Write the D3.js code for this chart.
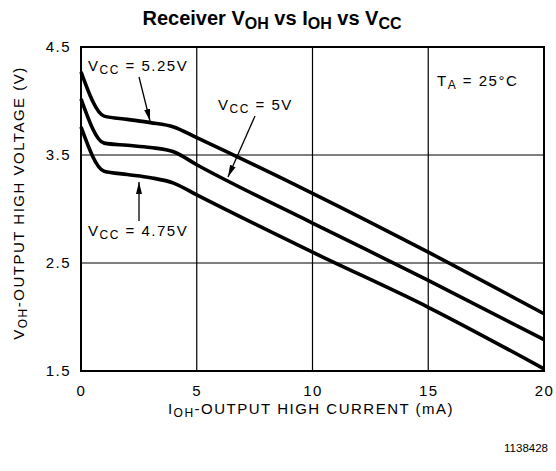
<!DOCTYPE html>
<html><head><meta charset="utf-8">
<script src="https://cdn.jsdelivr.net/npm/d3@7/dist/d3.min.js"></script>
<style>body{margin:0;background:#fff;} svg{display:block;}</style>
</head><body>
<svg id="c" width="556" height="471"></svg>
<script>
const currentMA = [0, 1, 2, 3, 4, 5, 10, 15, 20];
const vcc525 = [4.27, 3.86, 3.83, 3.80, 3.76, 3.66, 3.145, 2.60, 2.03];
const vcc500 = [4.02, 3.61, 3.59, 3.57, 3.53, 3.41, 2.87, 2.34, 1.79];
const vcc475 = [3.76, 3.35, 3.32, 3.29, 3.24, 3.13, 2.60, 2.09, 1.52];
const xTicks = [0, 5, 10, 15, 20];
const yTicks = [1.5, 2.5, 3.5, 4.5];

const svg = d3.select("#c");
const L = 81, R = 544, T = 47, B = 371;
const x = d3.scaleLinear().domain([0, 20]).range([L, R]);
const y = d3.scaleLinear().domain([1.5, 4.5]).range([B, T]);
const font = "'Liberation Sans', Arial, sans-serif";
const LS = 1.5;

// grid
svg.append("g").selectAll("line").data(xTicks.slice(1, -1)).join("line")
  .attr("x1", d => x(d)).attr("x2", d => x(d)).attr("y1", T).attr("y2", B)
  .attr("stroke", "#000").attr("stroke-width", 1.2);
svg.append("g").selectAll("line").data(yTicks.slice(1, -1)).join("line")
  .attr("y1", d => y(d)).attr("y2", d => y(d)).attr("x1", L).attr("x2", R)
  .attr("stroke", "#000").attr("stroke-width", 1.2);
svg.append("rect").attr("x", L).attr("y", T).attr("width", R - L).attr("height", B - T)
  .attr("fill", "none").attr("stroke", "#000").attr("stroke-width", 2);

// tick labels via d3 axes
const xAxis = d3.axisBottom(x).tickValues(xTicks).tickSize(0).tickPadding(14).tickFormat(d3.format("d"));
const gx = svg.append("g").attr("transform", `translate(0,${B})`).call(xAxis);
gx.select(".domain").remove();
gx.selectAll("text").attr("font-family", font).attr("font-size", 15).attr("letter-spacing", LS).attr("fill", "#000");
const yAxis = d3.axisLeft(y).tickValues(yTicks).tickSize(0).tickPadding(10).tickFormat(d3.format(".1f"));
const gy = svg.append("g").attr("transform", `translate(${L},0)`).call(yAxis);
gy.select(".domain").remove();
gy.selectAll("text").attr("font-family", font).attr("font-size", 15).attr("letter-spacing", LS).attr("fill", "#000");

// curves
const line = d3.line().x((d, i) => x(currentMA[i])).y(d => y(d)).curve(d3.curveMonotoneX);
[vcc525, vcc500, vcc475].forEach(s => {
  svg.append("path").attr("d", line(s)).attr("fill", "none")
    .attr("stroke", "#000").attr("stroke-width", 3.6).attr("stroke-linejoin", "round");
});

// helper for subscript text
function subText(g, xx, yy, parts, size, anchor, opts) {
  opts = opts || {};
  const t = g.append("text").attr("x", xx).attr("y", yy).attr("font-family", opts.fam || font)
    .attr("font-size", size).attr("text-anchor", anchor || "start").attr("fill", "#000");
  if (opts.weight) t.attr("font-weight", opts.weight);
  if (opts.ls !== undefined) t.attr("letter-spacing", opts.ls);
  parts.forEach(p => {
    const ts = t.append("tspan").text(p[0]);
    if (p[1] === "sub") ts.attr("baseline-shift", "-28%").attr("font-size", size * 0.8);
  });
  return t;
}

// title
subText(svg, 272, 25, [["Receiver V"], ["OH", "sub"], [" vs I"], ["OH", "sub"], [" vs V"], ["CC", "sub"]], 20, "middle", {weight: "bold", ls: 0});

// axis titles
subText(svg, 311, 414, [["I"], ["OH", "sub"], ["-OUTPUT HIGH CURRENT (mA)"]], 15, "middle", {ls: LS});
subText(svg.append("g").attr("transform", "translate(24,203) rotate(-90)"), 0, 0,
  [["V"], ["OH", "sub"], ["-OUTPUT HIGH VOLTAGE (V)"]], 15, "middle", {ls: LS});

// annotations
subText(svg, 88, 71, [["V"], ["CC", "sub"], [" = 5.25V"]], 15, "start", {ls: LS});
subText(svg, 218, 110, [["V"], ["CC", "sub"], [" = 5V"]], 15, "start", {ls: LS});
subText(svg, 88, 236, [["V"], ["CC", "sub"], [" = 4.75V"]], 15, "start", {ls: LS});
subText(svg, 437, 86, [["T"], ["A", "sub"], [" = 25°C"]], 15, "start", {ls: LS});
svg.append("text").attr("x", 548).attr("y", 452).attr("text-anchor", "end")
  .attr("font-family", font).attr("font-size", 11.5).text("1138428");

// arrows
svg.append("defs").append("marker").attr("id", "ah").attr("viewBox", "0 0 12 10")
  .attr("refX", 12).attr("refY", 5).attr("markerWidth", 12).attr("markerHeight", 10)
  .attr("markerUnits", "userSpaceOnUse").attr("orient", "auto")
  .append("path").attr("d", "M0,2 L12,5 L0,8 Z").attr("fill", "#000");
const arrows = [[139, 77, 150, 121], [255, 116, 228, 177], [139, 221, 139, 182]];
arrows.forEach(a => svg.append("line").attr("x1", a[0]).attr("y1", a[1]).attr("x2", a[2]).attr("y2", a[3])
  .attr("stroke", "#000").attr("stroke-width", 1.3).attr("marker-end", "url(#ah)"));
</script>
</body></html>
